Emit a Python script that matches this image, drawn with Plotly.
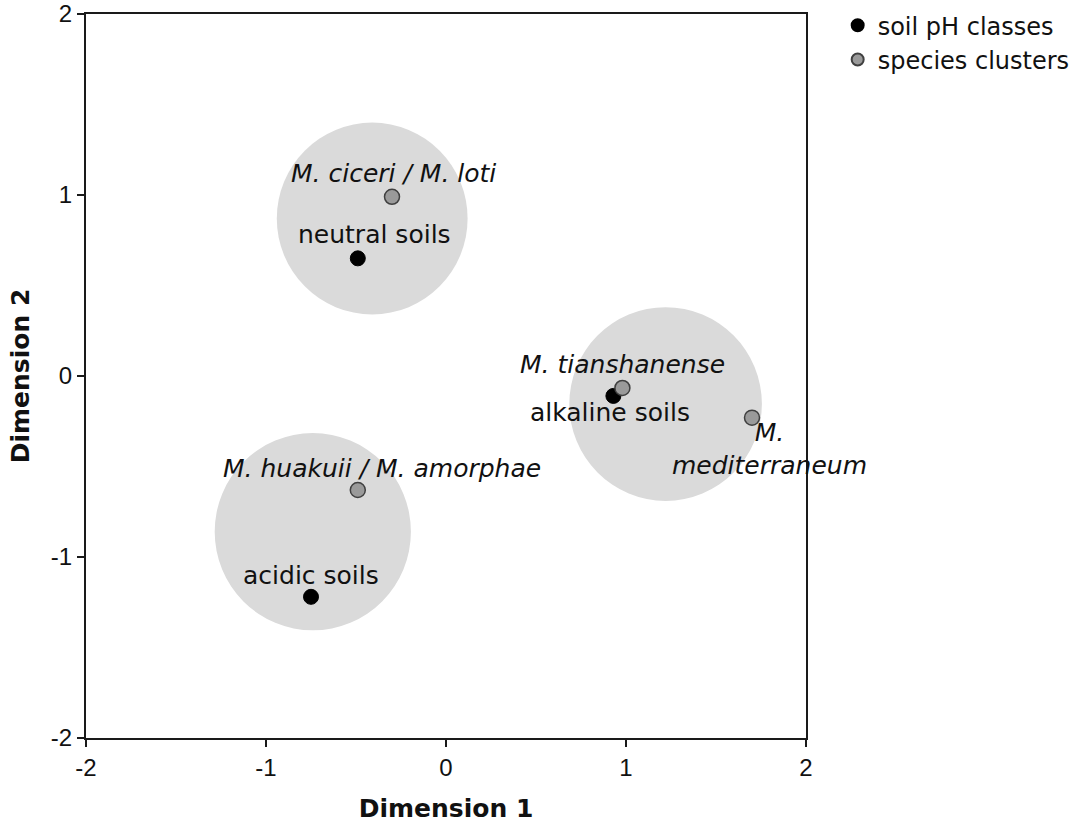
import plotly.graph_objects as go

# Data
soil_names = ["neutral soils", "alkaline soils", "acidic soils"]
soil_x = [-0.49, 0.93, -0.75]
soil_y = [0.65, -0.11, -1.22]

species_names = ["M. ciceri / M. loti", "M. tianshanense",
                 "M.<br>mediterraneum", "M. huakuii / M. amorphae"]
species_x = [-0.30, 0.98, 1.70, -0.49]
species_y = [0.99, -0.066, -0.23, -0.63]

# Cluster circles (centre x, centre y, radius) in dimension units
circle_cx = [-0.41, 1.22, -0.74]
circle_cy = [0.87, -0.155, -0.86]
circle_r = [0.53, 0.535, 0.545]

# label offsets in pixels (dx, dy) relative to points
soil_offsets = [(17, 24), (-3, -17), (0, 21)]
species_offsets = [(1, 23), (0, 23), (17, -31), (24, 22)]

ticks = [-2, -1, 0, 1, 2]

fig = go.Figure()

shapes = []
for cx, cy, r in zip(circle_cx, circle_cy, circle_r):
    shapes.append(dict(type="circle", xref="x", yref="y",
                       x0=cx - r, x1=cx + r, y0=cy - r, y1=cy + r,
                       fillcolor="#dadada", line=dict(width=0), layer="below"))

fig.add_trace(go.Scatter(
    x=soil_x, y=soil_y, mode="markers", name="soil pH classes",
    marker=dict(size=15, color="#000000", line=dict(color="#000000", width=1)),
    hoverinfo="skip"))
fig.add_trace(go.Scatter(
    x=species_x, y=species_y, mode="markers", name="species clusters",
    marker=dict(size=15, color="#9a9a9a", line=dict(color="#404040", width=1.5)),
    hoverinfo="skip"))

annotations = []
label_font = dict(family="DejaVu Sans, Verdana, sans-serif", size=25, color="#111111")
for name, x, y, (dx, dy) in zip(soil_names, soil_x, soil_y, soil_offsets):
    annotations.append(dict(x=x, y=y, xref="x", yref="y", text=name, showarrow=False,
                            xshift=dx, yshift=dy, font=label_font))
for name, x, y, (dx, dy) in zip(species_names, species_x, species_y, species_offsets):
    annotations.append(dict(x=x, y=y, xref="x", yref="y", text=f"<i>{name}</i>",
                            showarrow=False, xshift=dx, yshift=dy, align="center",
                            font=label_font))

axis_common = dict(
    range=[-2, 2], tickvals=ticks, ticktext=[str(t) for t in ticks],
    showgrid=False, zeroline=False, showline=True, linecolor="#1a1a1a", linewidth=2,
    mirror=True, ticks="outside", ticklen=7, tickwidth=1.5, tickcolor="#1a1a1a",
    automargin=False,
    tickfont=dict(family="Liberation Sans, Arial, sans-serif", size=24, color="#111111"),
)
title_font = dict(family="DejaVu Sans, Verdana, sans-serif", size=25, color="#111111")

fig.update_layout(
    width=1086, height=827,
    margin=dict(l=86, r=280, t=14, b=89, autoexpand=False),
    plot_bgcolor="white", paper_bgcolor="white",
    shapes=shapes, annotations=annotations,
    xaxis=dict(**axis_common,
               title=dict(text="<b>Dimension 1</b>", standoff=20, font=title_font)),
    yaxis=dict(**axis_common,
               title=dict(text="<b>Dimension 2</b>", standoff=14, font=title_font)),
    legend=dict(x=1.044, xanchor="left", y=1.015, yanchor="top",
                font=dict(family="DejaVu Sans, Verdana, sans-serif", size=24, color="#111111"),
                itemsizing="constant", tracegroupgap=0, bgcolor="rgba(0,0,0,0)",
                itemwidth=30),
    showlegend=True,
)

fig.write_html("out.html")
